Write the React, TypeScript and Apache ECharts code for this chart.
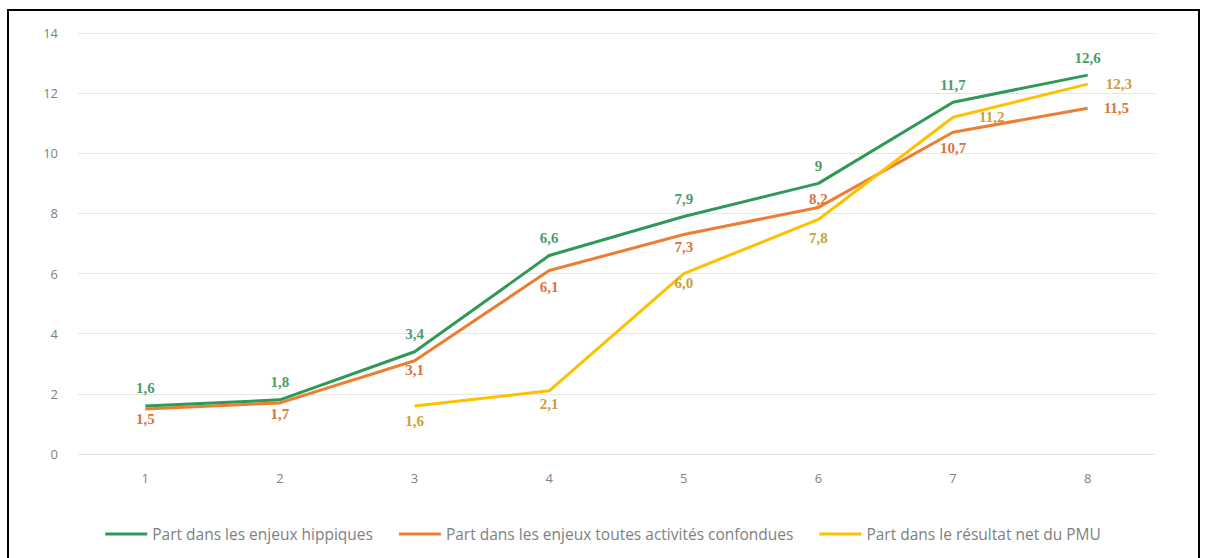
import React, { useEffect, useRef } from "react";
import * as echarts from "echarts";

const categories = ["1", "2", "3", "4", "5", "6", "7", "8"];
const hippiques = [1.6, 1.8, 3.4, 6.6, 7.9, 9, 11.7, 12.6];
const toutes = [1.5, 1.7, 3.1, 6.1, 7.3, 8.2, 10.7, 11.5];
const resultat: (number | null)[] = [null, null, 1.6, 2.1, 6.0, 7.8, 11.2, 12.3];
const seriesNames = [
  "Part dans les enjeux hippiques",
  "Part dans les enjeux toutes activités confondues",
  "Part dans le résultat net du PMU",
];
const yTicks = { min: 0, max: 14, interval: 2 };

const fmt = (v: number, oneDecimal: boolean) =>
  (oneDecimal ? v.toFixed(1) : String(v)).replace(".", ",");

const labelBase = {
  show: true,
  fontFamily: "Liberation Serif",
  fontWeight: "bold" as const,
  fontSize: 15,
};

export default function App() {
  const ref = useRef<HTMLDivElement>(null);
  useEffect(() => {
    if (!ref.current) return;
    const chart = echarts.init(ref.current, undefined, { renderer: "svg" });
    const green = "#2f9a57";
    const orange = "#ed7d31";
    const yellow = "#ffc000";

    const greenData = hippiques.map((v, i) => ({
      value: v,
      label: {
        position: "top",
        distance: 10,
        offset: i === 7 ? [26, 0] : [0, 0],
      },
    }));
    const orangePos: any[] = [
      { position: "bottom", distance: 3, offset: [0, 0] },
      { position: "bottom", distance: 4, offset: [10, 0] },
      { position: "bottom", distance: 2, offset: [0, 0] },
      { position: "bottom", distance: 9, offset: [8, 0] },
      { position: "bottom", distance: 5, offset: [15, 0] },
      { position: "top", distance: 1, offset: [-6, 0] },
      { position: "bottom", distance: 8, offset: [15, 0] },
      { position: "right", distance: 16, offset: [0, 1] },
    ];
    const orangeData = toutes.map((v, i) => ({ value: v, label: orangePos[i] }));
    const yellowPos: any[] = [
      {},
      {},
      { position: "bottom", distance: 8, offset: [8, 0] },
      { position: "bottom", distance: 6, offset: [8, 0] },
      { position: "bottom", distance: 2, offset: [20, 0] },
      { position: "bottom", distance: 11, offset: [0, 0] },
      { position: "right", distance: 26, offset: [0, -4] },
      { position: "right", distance: 18, offset: [0, 6] },
    ];
    const yellowData = resultat.map((v, i) =>
      v === null ? null : { value: v, label: yellowPos[i] }
    );

    const common = {
      type: "line",
      symbol: "circle",
      symbolSize: 0,
      showSymbol: true,
      labelLayout: { hideOverlap: false },
    };

    chart.setOption({
      animation: false,
      backgroundColor: "#ffffff",
      graphic: [
        {
          type: "rect",
          shape: { x: 8, y: 10, width: 1191, height: 560 },
          style: { fill: "none", stroke: "#000", lineWidth: 2 },
          silent: true,
        },
      ],
      grid: { left: 78, right: 51, top: 33, bottom: 104 },
      legend: {
        bottom: 11,
        left: "center",
        icon: "rect",
        itemWidth: 42,
        itemHeight: 3,
        itemGap: 26,
        textStyle: { color: "#7f7f7f", fontSize: 15.5, fontFamily: "Open Sans" },
        data: seriesNames,
      },
      xAxis: {
        type: "category",
        data: categories,
        boundaryGap: true,
        axisLine: { show: true, lineStyle: { color: "#e3e3e3" } },
        axisTick: { show: false },
        axisLabel: { color: "#7f7f7f", fontSize: 13, margin: 17, fontFamily: "Open Sans" },
      },
      yAxis: {
        type: "value",
        min: yTicks.min,
        max: yTicks.max,
        interval: yTicks.interval,
        axisLine: { show: false },
        axisTick: { show: false },
        axisLabel: { color: "#7f7f7f", fontSize: 13, margin: 20, fontFamily: "Open Sans" },
        splitLine: { lineStyle: { color: "#e6e6e6", width: 1 } },
      },
      series: [
        {
          ...common,
          name: seriesNames[0],
          data: greenData,
          lineStyle: { color: green, width: 3 },
          itemStyle: { color: green },
          label: { ...labelBase, color: "#4a9d6a", formatter: (p: any) => fmt(p.value, false) },
          z: 3,
        },
        {
          ...common,
          name: seriesNames[1],
          data: orangeData,
          lineStyle: { color: orange, width: 3 },
          itemStyle: { color: orange },
          label: { ...labelBase, color: "#d8763c", formatter: (p: any) => fmt(p.value, false) },
          z: 2,
        },
        {
          ...common,
          name: seriesNames[2],
          data: yellowData,
          connectNulls: false,
          lineStyle: { color: yellow, width: 3 },
          itemStyle: { color: yellow },
          label: { ...labelBase, color: "#c9a03a", formatter: (p: any) => fmt(p.value, true) },
          z: 2,
        },
      ],
    });
    return () => chart.dispose();
  }, []);
  return (
    <div
      ref={ref}
      style={{ position: "fixed", left: 0, top: 0, width: 1206, height: 558 }}
    />
  );
}
